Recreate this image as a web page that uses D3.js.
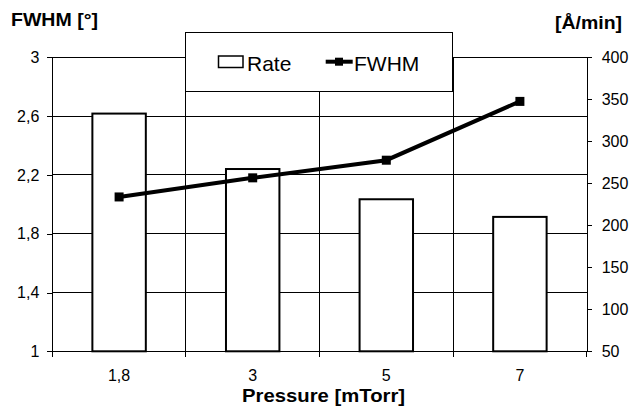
<!DOCTYPE html>
<html>
<head>
<meta charset="utf-8">
<script src="https://cdn.jsdelivr.net/npm/d3@7"></script>
<style>
  html, body { margin: 0; padding: 0; background: #fff; }
  svg { display: block; font-family: "Liberation Sans", Arial, Helvetica, sans-serif; }
</style>
</head>
<body>
<svg id="chart" width="630" height="409"></svg>
<script>
// ---- data ----
const categories = ["1,8", "3", "5", "7"];
const rateValues = [333, 267, 231, 210];      // Rate [Å/min], right axis
const fwhmValues = [2.05, 2.18, 2.30, 2.70];  // FWHM [°], left axis
const leftTicks = [1, 1.4, 1.8, 2.2, 2.6, 3];
const rightTicks = [50, 100, 150, 200, 250, 300, 350, 400];

// ---- layout ----
const svg = d3.select("#chart");
const L = 52.3, R = 586.7, T = 57.3, B = 351.3;

const x = d3.scaleBand().domain(categories).range([L, R]).paddingInner(0.6).paddingOuter(0.3);
const yL = d3.scaleLinear().domain([1, 3]).range([B, T]);
const yR = d3.scaleLinear().domain([50, 400]).range([B, T]);
const step = x.step();
const fmt = d => String(d).replace(".", ",");

// gridlines (horizontal)
svg.append("g").selectAll("line").data(leftTicks.filter(d => d > 1)).join("line")
  .attr("x1", L).attr("x2", R).attr("y1", d => yL(d)).attr("y2", d => yL(d))
  .attr("stroke", "#000").attr("stroke-width", 1).attr("shape-rendering", "crispEdges");

// gridlines (vertical, category boundaries)
const bounds = categories.slice(1).map(c => x(c) + x.bandwidth() / 2 - step / 2);
svg.append("g").selectAll("line").data(bounds).join("line")
  .attr("x1", d => d).attr("x2", d => d).attr("y1", T).attr("y2", B + 6)
  .attr("stroke", "#000").attr("stroke-width", 1).attr("shape-rendering", "crispEdges");

// bars
svg.append("g").selectAll("rect").data(rateValues).join("rect")
  .attr("x", (d, i) => x(categories[i]))
  .attr("width", x.bandwidth())
  .attr("y", d => yR(d))
  .attr("height", d => B - yR(d))
  .attr("fill", "#fff").attr("stroke", "#000").attr("stroke-width", 2);

// line
const pts = fwhmValues.map((v, i) => [x(categories[i]) + x.bandwidth() / 2, yL(v)]);
svg.append("path").attr("d", d3.line()(pts))
  .attr("fill", "none").attr("stroke", "#000").attr("stroke-width", 4);
svg.append("g").selectAll("rect").data(pts).join("rect")
  .attr("x", d => d[0] - 4.5).attr("y", d => d[1] - 4.5)
  .attr("width", 9).attr("height", 9).attr("fill", "#000");

// left axis
const axL = svg.append("g").attr("transform", `translate(${L},0)`)
  .call(d3.axisLeft(yL).tickValues(leftTicks).tickFormat(fmt).tickSize(5).tickSizeOuter(0).tickPadding(8));
// right axis
const axR = svg.append("g").attr("transform", `translate(${R},0)`)
  .call(d3.axisRight(yR).tickValues(rightTicks).tickSize(5).tickSizeOuter(0).tickPadding(10));
// bottom axis
const axB = svg.append("g").attr("transform", `translate(0,${B})`)
  .call(d3.axisBottom(x).tickSize(0).tickSizeOuter(0).tickPadding(18));
// bottom ticks at boundaries including ends
svg.append("g").selectAll("line").data([L, ...bounds, R]).join("line")
  .attr("x1", d => d).attr("x2", d => d).attr("y1", B).attr("y2", B + 6)
  .attr("stroke", "#000").attr("stroke-width", 1).attr("shape-rendering", "crispEdges");

[axL, axR, axB].forEach(g => {
  g.selectAll("path.domain").attr("stroke", "#000").attr("stroke-width", 1).attr("shape-rendering", "crispEdges");
  g.selectAll(".tick line").attr("stroke", "#000").attr("shape-rendering", "crispEdges");
  g.selectAll("text").attr("font-size", 16).attr("fill", "#000")
    .attr("font-family", '"Liberation Sans", Arial, sans-serif');
});

// legend
const lg = svg.append("g");
lg.append("rect").attr("x", 185.3).attr("y", 32.3).attr("width", 267).attr("height", 59.4)
  .attr("fill", "#fff").attr("stroke", "#000").attr("stroke-width", 1).attr("shape-rendering", "crispEdges");
lg.append("rect").attr("x", 218.5).attr("y", 56).attr("width", 24.5).attr("height", 11.5)
  .attr("fill", "#fff").attr("stroke", "#000").attr("stroke-width", 1.5);
lg.append("text").attr("x", 247).attr("y", 70.7).attr("font-size", 21).text("Rate");
lg.append("line").attr("x1", 325.7).attr("x2", 352.7).attr("y1", 61.7).attr("y2", 61.7)
  .attr("stroke", "#000").attr("stroke-width", 4);
lg.append("rect").attr("x", 335).attr("y", 57.7).attr("width", 8).attr("height", 8).attr("fill", "#000");
lg.append("text").attr("x", 354).attr("y", 70.7).attr("font-size", 21).text("FWHM");

// titles
svg.append("text").attr("x", 11).attr("y", 26).attr("font-size", 18).attr("font-weight", "bold")
  .attr("textLength", 87).attr("lengthAdjust", "spacingAndGlyphs").text("FWHM [°]");
svg.append("text").attr("x", 622).attr("y", 29).attr("text-anchor", "end").attr("font-size", 18).attr("font-weight", "bold")
  .attr("textLength", 67).attr("lengthAdjust", "spacingAndGlyphs").text("[Å/min]");
svg.append("text").attr("x", 323.6).attr("y", 402).attr("text-anchor", "middle").attr("font-size", 18).attr("font-weight", "bold")
  .attr("textLength", 163).attr("lengthAdjust", "spacingAndGlyphs").text("Pressure [mTorr]");
</script>
</body>
</html>
